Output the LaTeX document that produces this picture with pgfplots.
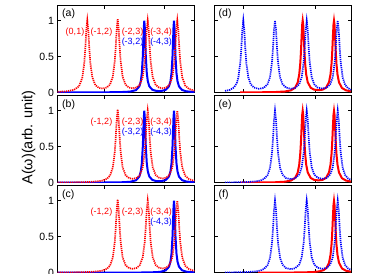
\documentclass[border=0pt]{standalone}
\usepackage{fontspec}
\setmainfont{Liberation Sans}
\usepackage{pgfplots}
\pgfplotsset{compat=1.18}
\pgfplotsset{
  panel/.style={scale only axis, width=137pt, height=87pt, anchor=south west,
    ymin=0, ymax=1.21, ytick={0,0.5,1}, xticklabels={},
    tick align=inside, xtick pos=both, ytick pos=both,
    major tick length=3.5pt,
    axis line style={line width=0.7pt},
    every tick/.style={black, line width=0.6pt},
    /pgf/number format/assume math mode=true,
    tick label style={font=\fontsize{10.5}{12}\selectfont}},
  lcol/.style={panel, xmin=57.5, xmax=194.5, xtick={104.5,164}},
  rcol/.style={panel, xmin=214, xmax=351, xtick={243.3,315}, yticklabels={}},
  rdot/.style={color={rgb,255:red,255;green,0;blue,0}, line width=1.7pt, dash pattern=on 1.2pt off 0.9pt},
  bdot/.style={color={rgb,255:red,0;green,0;blue,255}, line width=1.7pt, dash pattern=on 1.2pt off 0.9pt},
  rsol/.style={color={rgb,255:red,255;green,0;blue,0}, line width=2pt},
  bsol/.style={color={rgb,255:red,0;green,0;blue,255}, line width=2pt},
}
\tikzset{
  plab/.style={font=\fontsize{10.5}{12}\selectfont, anchor=base west, inner sep=0pt, xshift=4.5pt, yshift=-11.5pt},
  rlab/.style={font=\fontsize{9}{10}\selectfont, inner sep=0pt, text={rgb,255:red,255;green,0;blue,0}},
  blab/.style={font=\fontsize{9}{10}\selectfont, inner sep=0pt, text={rgb,255:red,0;green,0;blue,255}},
}
\begin{document}
\begin{tikzpicture}
\useasboundingbox (0pt,0pt) rectangle (390pt,273pt);
\node[rotate=90, font=\fontsize{14.5}{16}\selectfont] at (28.5pt,135.5pt) {A(ω)(arb. unit)};

% (a)
\begin{axis}[lcol, at={(57.5pt,180.5pt)}]
\addplot[bsol] coordinates {(57.5,0.001)(100,0.002)(120,0.005)(130,0.012)(136,0.033)(139.3,0.084)(140.8,0.157)(141.8,0.267)(142.8,0.502)(143.3,0.694)(143.8,0.902)(144.3,1.0)(144.8,0.902)(145.3,0.694)(145.8,0.502)(146.8,0.268)(147.8,0.158)(149.3,0.086)(152.3,0.039)(156,0.023)(159,0.020)(162,0.023)(165.7,0.037)(169,0.086)(170.5,0.158)(171.5,0.268)(172.5,0.503)(173,0.695)(173.5,0.903)(174,1.0)(174.5,0.902)(175,0.694)(175.5,0.502)(176.5,0.267)(177.5,0.157)(179,0.084)(182,0.036)(186,0.017)(190,0.011)(194.5,0.006)};
\addplot[rdot] coordinates {(57.5,0.010)(66,0.016)(74,0.037)(79,0.086)(82.3,0.204)(84.3,0.414)(85.3,0.614)(86.3,0.866)(87.3,1.0)(88.3,0.866)(89.3,0.614)(90.3,0.414)(92.3,0.212)(95.3,0.103)(99,0.063)(103,0.055)(107,0.071)(110,0.111)(112.7,0.215)(114.7,0.425)(115.7,0.625)(116.7,0.877)(117.7,1.02)(118.7,0.877)(119.7,0.625)(120.7,0.425)(122.7,0.215)(125.7,0.106)(129,0.068)(132.7,0.058)(136.5,0.069)(139.7,0.106)(142.7,0.215)(144.7,0.425)(145.7,0.625)(146.7,0.877)(147.7,1.0)(148.7,0.877)(149.7,0.625)(150.7,0.425)(152.7,0.215)(155.7,0.106)(159,0.069)(162.5,0.059)(166,0.068)(169.3,0.105)(172.3,0.213)(174.3,0.42)(175.3,0.62)(176.3,0.872)(177.3,1.0)(178.3,0.87)(179.3,0.617)(180.3,0.418)(182.3,0.209)(185.3,0.095)(189,0.049)(194.5,0.025)};
\node[plab] at (rel axis cs:0,1) {(a)};
\node[rlab] at (axis cs:75,0.84) {(0,1)};
\node[rlab] at (axis cs:101.5,0.84) {(-1,2)};
\node[rlab] at (axis cs:132.5,0.84) {(-2,3)};
\node[rlab] at (axis cs:161,0.84) {(-3,4)};
\node[blab] at (axis cs:132.5,0.70) {(-3,2)};
\node[blab] at (axis cs:161,0.70) {(-4,3)};
\end{axis}

% (b)
\begin{axis}[lcol, at={(57.5pt,90.3pt)}]
\addplot[bsol] coordinates {(57.5,0.001)(100,0.002)(120,0.005)(130,0.012)(136,0.033)(139.3,0.084)(140.8,0.157)(141.8,0.267)(142.8,0.502)(143.3,0.694)(143.8,0.902)(144.3,1.0)(144.8,0.902)(145.3,0.694)(145.8,0.502)(146.8,0.268)(147.8,0.158)(149.3,0.086)(152.3,0.039)(156,0.023)(159,0.020)(162,0.023)(165.7,0.037)(169,0.086)(170.5,0.158)(171.5,0.268)(172.5,0.503)(173,0.695)(173.5,0.903)(174,1.0)(174.5,0.902)(175,0.694)(175.5,0.502)(176.5,0.267)(177.5,0.157)(179,0.084)(182,0.036)(186,0.017)(190,0.011)(194.5,0.006)};
\addplot[rdot] coordinates {(57.5,0.003)(75,0.005)(90,0.010)(99,0.021)(103,0.031)(107,0.055)(110,0.098)(112.7,0.205)(114.7,0.415)(115.7,0.615)(116.7,0.867)(117.7,1.02)(118.7,0.872)(119.7,0.62)(120.7,0.42)(122.7,0.21)(125.7,0.102)(129,0.064)(132.7,0.054)(136.5,0.066)(139.7,0.103)(142.7,0.212)(144.7,0.422)(145.7,0.622)(146.7,0.874)(147.7,1.0)(148.7,0.877)(149.7,0.625)(150.7,0.425)(152.7,0.215)(155.7,0.106)(159,0.069)(162.5,0.059)(166,0.068)(169.3,0.105)(172.3,0.213)(174.3,0.42)(175.3,0.62)(176.3,0.872)(177.3,1.0)(178.3,0.87)(179.3,0.617)(180.3,0.418)(182.3,0.209)(185.3,0.095)(189,0.049)(194.5,0.025)};
\node[plab] at (rel axis cs:0,1) {(b)};
\node[rlab] at (axis cs:101.5,0.84) {(-1,2)};
\node[rlab] at (axis cs:132.5,0.84) {(-2,3)};
\node[rlab] at (axis cs:161,0.84) {(-3,4)};
\node[blab] at (axis cs:132.5,0.70) {(-3,2)};
\node[blab] at (axis cs:161,0.70) {(-4,3)};
\end{axis}

% (c)
\begin{axis}[lcol, at={(57.5pt,0.3pt)}]
\addplot[bsol] coordinates {(57.5,0.0003)(100,0.0004)(130,0.0012)(150,0.004)(160,0.011)(165.7,0.032)(169,0.083)(170.5,0.155)(171.5,0.265)(172.5,0.5)(173,0.692)(173.5,0.9)(174,1.0)(174.5,0.9)(175,0.692)(175.5,0.5)(176.5,0.265)(177.5,0.155)(179,0.083)(182,0.034)(186,0.015)(190,0.009)(194.5,0.005)};
\addplot[rdot] coordinates {(57.5,0.003)(75,0.005)(90,0.010)(99,0.021)(103,0.031)(107,0.055)(110,0.098)(112.7,0.205)(114.7,0.415)(115.7,0.615)(116.7,0.867)(117.7,1.02)(118.7,0.872)(119.7,0.62)(120.7,0.42)(122.7,0.21)(125.7,0.102)(129,0.064)(132.7,0.054)(136.5,0.066)(139.7,0.103)(142.7,0.212)(144.7,0.422)(145.7,0.622)(146.7,0.874)(147.7,1.0)(148.7,0.877)(149.7,0.625)(150.7,0.425)(152.7,0.215)(155.7,0.106)(159,0.069)(162.5,0.059)(166,0.068)(169.3,0.105)(172.3,0.213)(174.3,0.42)(175.3,0.62)(176.3,0.872)(177.3,1.0)(178.3,0.87)(179.3,0.617)(180.3,0.418)(182.3,0.209)(185.3,0.095)(189,0.049)(194.5,0.025)};
\node[plab] at (rel axis cs:0,1) {(c)};
\node[rlab] at (axis cs:101.5,0.84) {(-1,2)};
\node[rlab] at (axis cs:132.5,0.84) {(-2,3)};
\node[rlab] at (axis cs:161,0.84) {(-3,4)};
\node[blab] at (axis cs:161,0.70) {(-4,3)};
\end{axis}

% (d)
\begin{axis}[rcol, at={(214pt,180.5pt)}]
\addplot[rsol] coordinates {(240,0.002)(260,0.003)(275,0.006)(285,0.014)(291,0.030)(295,0.065)(297.7,0.140)(299.2,0.249)(300.2,0.393)(300.7,0.503)(301.2,0.643)(301.7,0.803)(302.2,0.944)(302.7,1.0)(303.2,0.944)(303.7,0.803)(304.2,0.643)(304.7,0.503)(305.2,0.393)(306.2,0.251)(307.7,0.143)(310.7,0.066)(314,0.040)(318.3,0.032)(322.5,0.039)(326,0.066)(329,0.144)(330.5,0.251)(331.5,0.395)(332,0.505)(332.5,0.645)(333,0.805)(333.5,0.945)(334,1.0)(334.5,0.945)(335,0.804)(335.5,0.644)(336,0.504)(336.5,0.394)(337.5,0.250)(339,0.141)(342,0.062)(346,0.030)(351,0.016)};
\addplot[bdot] coordinates {(225,0.022)(230,0.037)(234,0.070)(236.8,0.132)(238.3,0.204)(240.3,0.414)(241.3,0.614)(242.3,0.866)(243.3,1.0)(244.3,0.866)(245.3,0.614)(246.3,0.414)(248.3,0.211)(250.8,0.112)(254,0.068)(259,0.051)(263.5,0.063)(267.5,0.114)(270,0.212)(272,0.422)(273,0.622)(274,0.874)(275,1.0)(276,0.874)(277,0.622)(278,0.422)(280,0.214)(282.5,0.116)(286,0.068)(290.8,0.052)(295,0.063)(299.2,0.115)(301.7,0.214)(303.7,0.424)(304.7,0.624)(305.7,0.876)(306.7,1.0)(307.7,0.876)(308.7,0.624)(309.7,0.424)(311.7,0.214)(314.2,0.115)(317.5,0.070)(322.2,0.054)(326.5,0.066)(330.2,0.113)(332.7,0.212)(334.7,0.42)(335.7,0.62)(336.7,0.872)(337.7,1.0)(338.7,0.872)(339.7,0.62)(340.7,0.42)(342.7,0.206)(345.2,0.104)(348,0.060)(351,0.038)};
\node[plab] at (rel axis cs:0,1) {(d)};
\end{axis}

% (e)
\begin{axis}[rcol, at={(214pt,90.3pt)}]
\addplot[rsol] coordinates {(240,0.002)(260,0.003)(275,0.006)(285,0.014)(291,0.030)(295,0.065)(297.7,0.140)(299.2,0.249)(300.2,0.393)(300.7,0.503)(301.2,0.643)(301.7,0.803)(302.2,0.944)(302.7,1.0)(303.2,0.944)(303.7,0.803)(304.2,0.643)(304.7,0.503)(305.2,0.393)(306.2,0.251)(307.7,0.143)(310.7,0.066)(314,0.040)(318.3,0.032)(322.5,0.039)(326,0.066)(329,0.144)(330.5,0.251)(331.5,0.395)(332,0.505)(332.5,0.645)(333,0.805)(333.5,0.945)(334,1.0)(334.5,0.945)(335,0.804)(335.5,0.644)(336,0.504)(336.5,0.394)(337.5,0.250)(339,0.141)(342,0.062)(346,0.030)(351,0.016)};
\addplot[bdot] coordinates {(225,0.004)(235,0.005)(245,0.008)(252,0.014)(256.5,0.020)(260.5,0.031)(264,0.052)(267.5,0.103)(270,0.204)(272,0.414)(273,0.614)(274,0.866)(275,1.0)(276,0.874)(277,0.622)(278,0.422)(280,0.208)(282.5,0.111)(286,0.064)(290.8,0.049)(295,0.061)(299.2,0.113)(301.7,0.212)(303.7,0.422)(304.7,0.622)(305.7,0.874)(306.7,1.0)(307.7,0.876)(308.7,0.624)(309.7,0.424)(311.7,0.214)(314.2,0.115)(317.5,0.070)(322.2,0.054)(326.5,0.066)(330.2,0.113)(332.7,0.212)(334.7,0.42)(335.7,0.62)(336.7,0.872)(337.7,1.0)(338.7,0.872)(339.7,0.62)(340.7,0.42)(342.7,0.206)(345.2,0.104)(348,0.060)(351,0.038)};
\node[plab] at (rel axis cs:0,1) {(e)};
\end{axis}

% (f)
\begin{axis}[rcol, at={(214pt,0.3pt)}]
\addplot[rsol] coordinates {(258,0.001)(290,0.002)(305,0.005)(314,0.010)(319.5,0.019)(323.5,0.035)(326.5,0.066)(329,0.138)(330.5,0.246)(331.5,0.39)(332,0.5)(332.5,0.64)(333,0.8)(333.5,0.941)(334,1.0)(334.5,0.941)(335,0.8)(335.5,0.64)(336,0.5)(336.5,0.39)(337.5,0.246)(339,0.138)(342,0.059)(346,0.027)(351,0.014)};
\addplot[bdot] coordinates {(225,0.004)(235,0.005)(245,0.008)(252,0.014)(256.5,0.020)(260.5,0.031)(264,0.052)(267.5,0.103)(270,0.204)(272,0.414)(273,0.614)(274,0.866)(275,1.0)(276,0.874)(277,0.622)(278,0.422)(280,0.208)(282.5,0.111)(286,0.064)(290.8,0.049)(295,0.061)(299.2,0.113)(301.7,0.212)(303.7,0.422)(304.7,0.622)(305.7,0.874)(306.7,1.0)(307.7,0.876)(308.7,0.624)(309.7,0.424)(311.7,0.214)(314.2,0.115)(317.5,0.070)(322.2,0.054)(326.5,0.066)(330.2,0.113)(332.7,0.212)(334.7,0.42)(335.7,0.62)(336.7,0.872)(337.7,1.0)(338.7,0.872)(339.7,0.62)(340.7,0.42)(342.7,0.206)(345.2,0.104)(348,0.060)(351,0.038)};
\node[plab] at (rel axis cs:0,1) {(f)};
\end{axis}
\end{tikzpicture}
\end{document}
